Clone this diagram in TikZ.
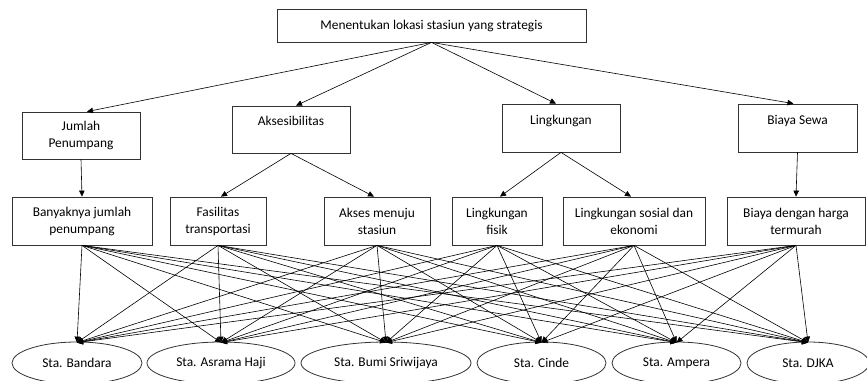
\documentclass[tikz,border=0pt]{standalone}
\usepackage{fontspec}
\setmainfont{Carlito}
\usetikzlibrary{arrows.meta,shapes.geometric}
\begin{document}
\begin{tikzpicture}[x=1pt,y=-1pt,
  box/.style={draw=black!80,line width=0.8pt,align=center,inner sep=0pt,font=\fontsize{13.4}{17}\selectfont},
  sta/.style={draw=black!80,line width=0.8pt,ellipse,inner sep=0pt,font=\fontsize{13.4}{17}\selectfont},
  arr/.style={line width=0.6pt,-{Triangle[length=6pt,width=5.5pt]}}]
\clip (0,0) rectangle (867,380);
\fill[white] (0,0) rectangle (867,380);
% top
\node[box,minimum width=309pt,minimum height=33pt] (top) at (431.5,25.5) {Menentukan lokasi stasiun yang strategis};
% level 2
\node[box,minimum width=118pt,minimum height=47pt] (jp) at (81,135.5) {Jumlah\\Penumpang};
\node[box,minimum width=118pt,minimum height=47pt] (ak) at (291,129.5) {Aksesibilitas\\\phantom{X}};
\node[box,minimum width=118pt,minimum height=48pt] (li) at (561,128) {Lingkungan\\\phantom{X}};
\node[box,minimum width=119pt,minimum height=48pt] (bs) at (797.5,128) {Biaya Sewa\\\phantom{X}};
% level 3
\node[box,minimum width=140pt,minimum height=48pt] (c1) at (82,221) {Banyaknya jumlah\\penumpang};
\node[box,minimum width=96pt,minimum height=48pt] (c2) at (218,221) {Fasilitas\\transportasi};
\node[box,minimum width=106pt,minimum height=48pt] (c3) at (377,221) {Akses menuju\\stasiun};
\node[box,minimum width=90pt,minimum height=48pt] (c4) at (497,221) {Lingkungan\\fisik};
\node[box,minimum width=142pt,minimum height=48pt] (c5) at (634,221) {Lingkungan sosial dan\\ekonomi};
\node[box,minimum width=138pt,minimum height=48pt] (c6) at (796,221) {Biaya dengan harga\\termurah};
% stations
\node[sta,minimum width=130pt,minimum height=42pt] (s1) at (77,363) {Sta. Bandara};
\node[sta,minimum width=148pt,minimum height=42pt] (s2) at (221,363) {Sta. Asrama Haji};
\node[sta,minimum width=170pt,minimum height=42pt] (s3) at (386,363) {Sta. Bumi Sriwijaya};
\node[sta,minimum width=129pt,minimum height=42pt] (s4) at (541.5,363) {Sta. Cinde};
\node[sta,minimum width=129pt,minimum height=42pt] (s5) at (676.5,363) {Sta. Ampera};
\node[sta,minimum width=122pt,minimum height=42pt] (s6) at (808,363) {Sta. DJKA};
% arrows top -> level 2
\draw[arr] (top.south) -- ([xshift=6pt]jp.north);
\draw[arr] (top.south) -- ([xshift=5pt]ak.north);
\draw[arr] (top.south) -- ([xshift=-5pt]li.north);
\draw[arr] (top.south) -- ([xshift=-4pt]bs.north);
% level 2 -> level 3
\draw[arr] (jp.south) -- (c1.north);
\draw[arr] (ak.south) -- ([xshift=3pt]c2.north);
\draw[arr] (ak.south) -- ([xshift=-3pt]c3.north);
\draw[arr] (li.south) -- ([xshift=3pt]c4.north);
\draw[arr] (li.south) -- ([xshift=-3pt]c5.north);
\draw[arr] (bs.south) -- (c6.north);
% level 3 -> stations
\foreach \c in {c1,c2,c3,c4,c5,c6}{
  \foreach \s in {s1,s2,s3,s4,s5,s6}{
    \draw[arr] (\c.south) -- ([yshift=-1pt]\s.north);
  }
}
\end{tikzpicture}
\end{document}
